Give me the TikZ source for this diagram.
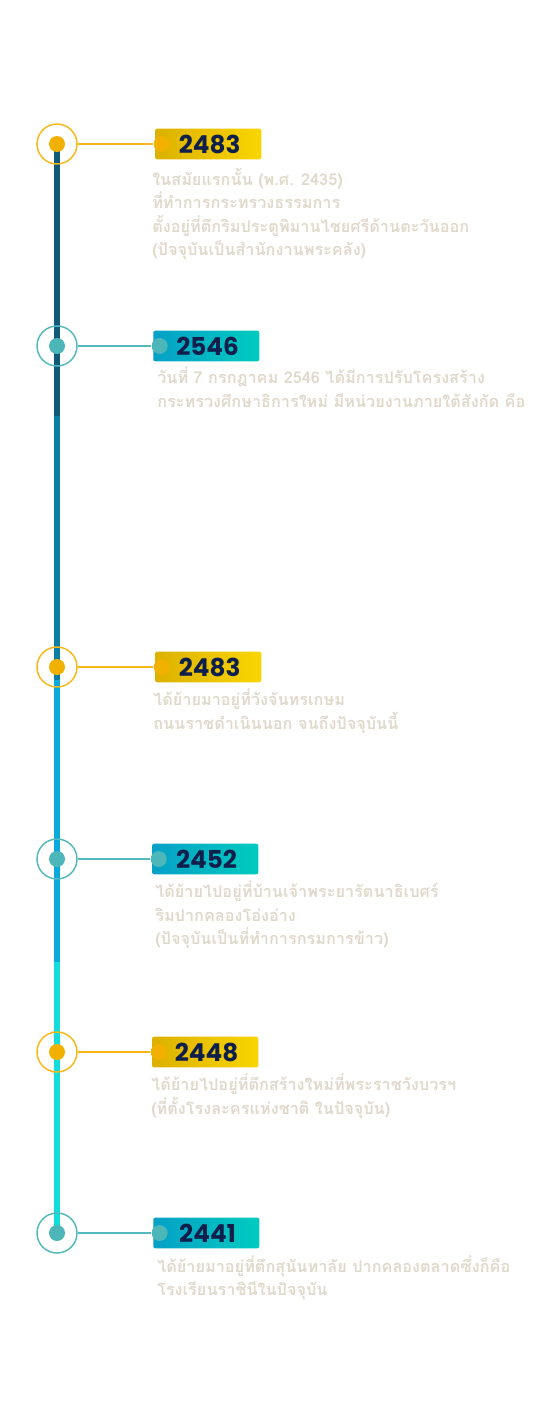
\documentclass[tikz,border=0pt]{standalone}
\usepackage{fontspec}
\usetikzlibrary{backgrounds}
\newfontfamily\thaifont[Script=Thai]{Loma}
\newfontfamily\yearfont{Poppins}
\definecolor{axisA}{HTML}{105A78}
\definecolor{axisB}{HTML}{0B7FA3}
\definecolor{axisC}{HTML}{0AA9DD}
\definecolor{axisD}{HTML}{12DDDD}
\definecolor{goldring}{HTML}{F5B818}
\definecolor{goldhub}{HTML}{F2B000}
\definecolor{goldleft}{HTML}{DCB100}
\definecolor{goldright}{HTML}{F9D500}
\definecolor{tealring}{HTML}{52B9BD}
\definecolor{tealhub}{HTML}{4DB6B8}
\definecolor{tealleft}{HTML}{06A0C6}
\definecolor{tealright}{HTML}{00CBC0}
\definecolor{yearink}{HTML}{0F1F4B}
\definecolor{noteink}{HTML}{E0D8CB}
\tikzset{
	axis/.style={line width=4.5pt},
	ring/.style={circle, draw, line width=1.1pt, minimum size=30pt, inner sep=0pt},
	hub/.style={circle, fill, minimum size=12pt, inner sep=0pt},
	tag/.style={rounded corners=1.5pt, minimum width=79.5pt, minimum height=23pt,
			inner sep=0pt, font=\yearfont\bfseries\fontsize{18.5}{18.5}\selectfont, text=yearink},
	link/.style={line width=1.1pt},
	note/.style={anchor=north west, align=left, inner sep=0pt, text=noteink,
			font=\thaifont\bfseries\fontsize{12.2}{17.6}\selectfont},
	goldring/.style={draw=goldring}, goldhub/.style={fill=goldhub},
	goldtag/.style={left color=goldleft, right color=goldright},
	tealring/.style={draw=tealring}, tealhub/.style={fill=tealhub},
	tealtag/.style={left color=tealleft, right color=tealright}
}
\begin{document}
\begin{tikzpicture}[x=0.75pt, y=-0.75pt]
	\useasboundingbox (0,0) rectangle (554,1417);
	\foreach \n/\yc/\bx/\dx/\dy/\kind/\yr/\txt in {
			1/144/155/-3/-6/gold/2483/{ในสมัยแรกนั้น (พ.ศ. 2435)\\ที่ทำการกระทรวงธรรมการ\\ตั้งอยู่ที่ตึกริมประตูพิมานไชยศรีด้านตะวันออก\\(ปัจจุบันเป็นสำนักงานพระคลัง)},
			2/346/153/4/-4/teal/2546/{วันที่ 7 กรกฎาคม 2546 ได้มีการปรับโครงสร้าง\\กระทรวงศึกษาธิการใหม่ มีหน่วยงานภายใต้สังกัด คือ},
			3/667/155/-2/-4.5/gold/2483/{ได้ย้ายมาอยู่ที่วังจันทรเกษม\\ถนนราชดำเนินนอก จนถึงปัจจุบันนี้},
			4/859/152/3/-4.5/teal/2452/{ได้ย้ายไปอยู่ที่บ้านเจ้าพระยารัตนาธิเบศร์\\ริมปากคลองโอ่งอ่าง\\(ปัจจุบันเป็นที่ทำการกรมการข้าว)},
			5/1052/152/-1/-4.5/gold/2448/{ได้ย้ายไปอยู่ที่ตึกสร้างใหม่ที่พระราชวังบวรฯ\\(ที่ตั้งโรงละครแห่งชาติ ในปัจจุบัน)},
			6/1233/153/4/-5/teal/2441/{ได้ย้ายมาอยู่ที่ตึกสุนันทาลัย ปากคลองตลาดซึ่งก็คือ\\โรงเรียนราชินีในปัจจุบัน}} {
			\node[ring, \kind ring] (r\n) at (57,\yc) {};
			\node[hub, \kind hub] (h\n) at (r\n.center) {};
			\node[tag, \kind tag, anchor=west] (t\n) at (\bx,\yc) {\hspace{2pt}\yr};
			\node[hub, \kind hub] (d\n) at ([xshift=5pt]t\n.west) {};
			\node[note] (x\n) at ([xshift=\dx*0.75pt, yshift=\dy pt]t\n.south west) {\txt};
			\begin{scope}[on background layer]
				\draw[link, \kind ring] (r\n) -- (d\n);
			\end{scope}
		}
	% timeline spine, drawn behind the markers
	\coordinate (s1) at (57,416);
	\coordinate (s2) at (57,680);
	\coordinate (s3) at (57,962);
	\begin{scope}[on background layer]
		\draw[axis, axisA] (r1.center) -- (s1);
		\draw[axis, axisB] (s1) -- (s2);
		\draw[axis, axisC] (s2) -- (s3);
		\draw[axis, axisD] (s3) -- (r6.center);
	\end{scope}
\end{tikzpicture}
\end{document}
